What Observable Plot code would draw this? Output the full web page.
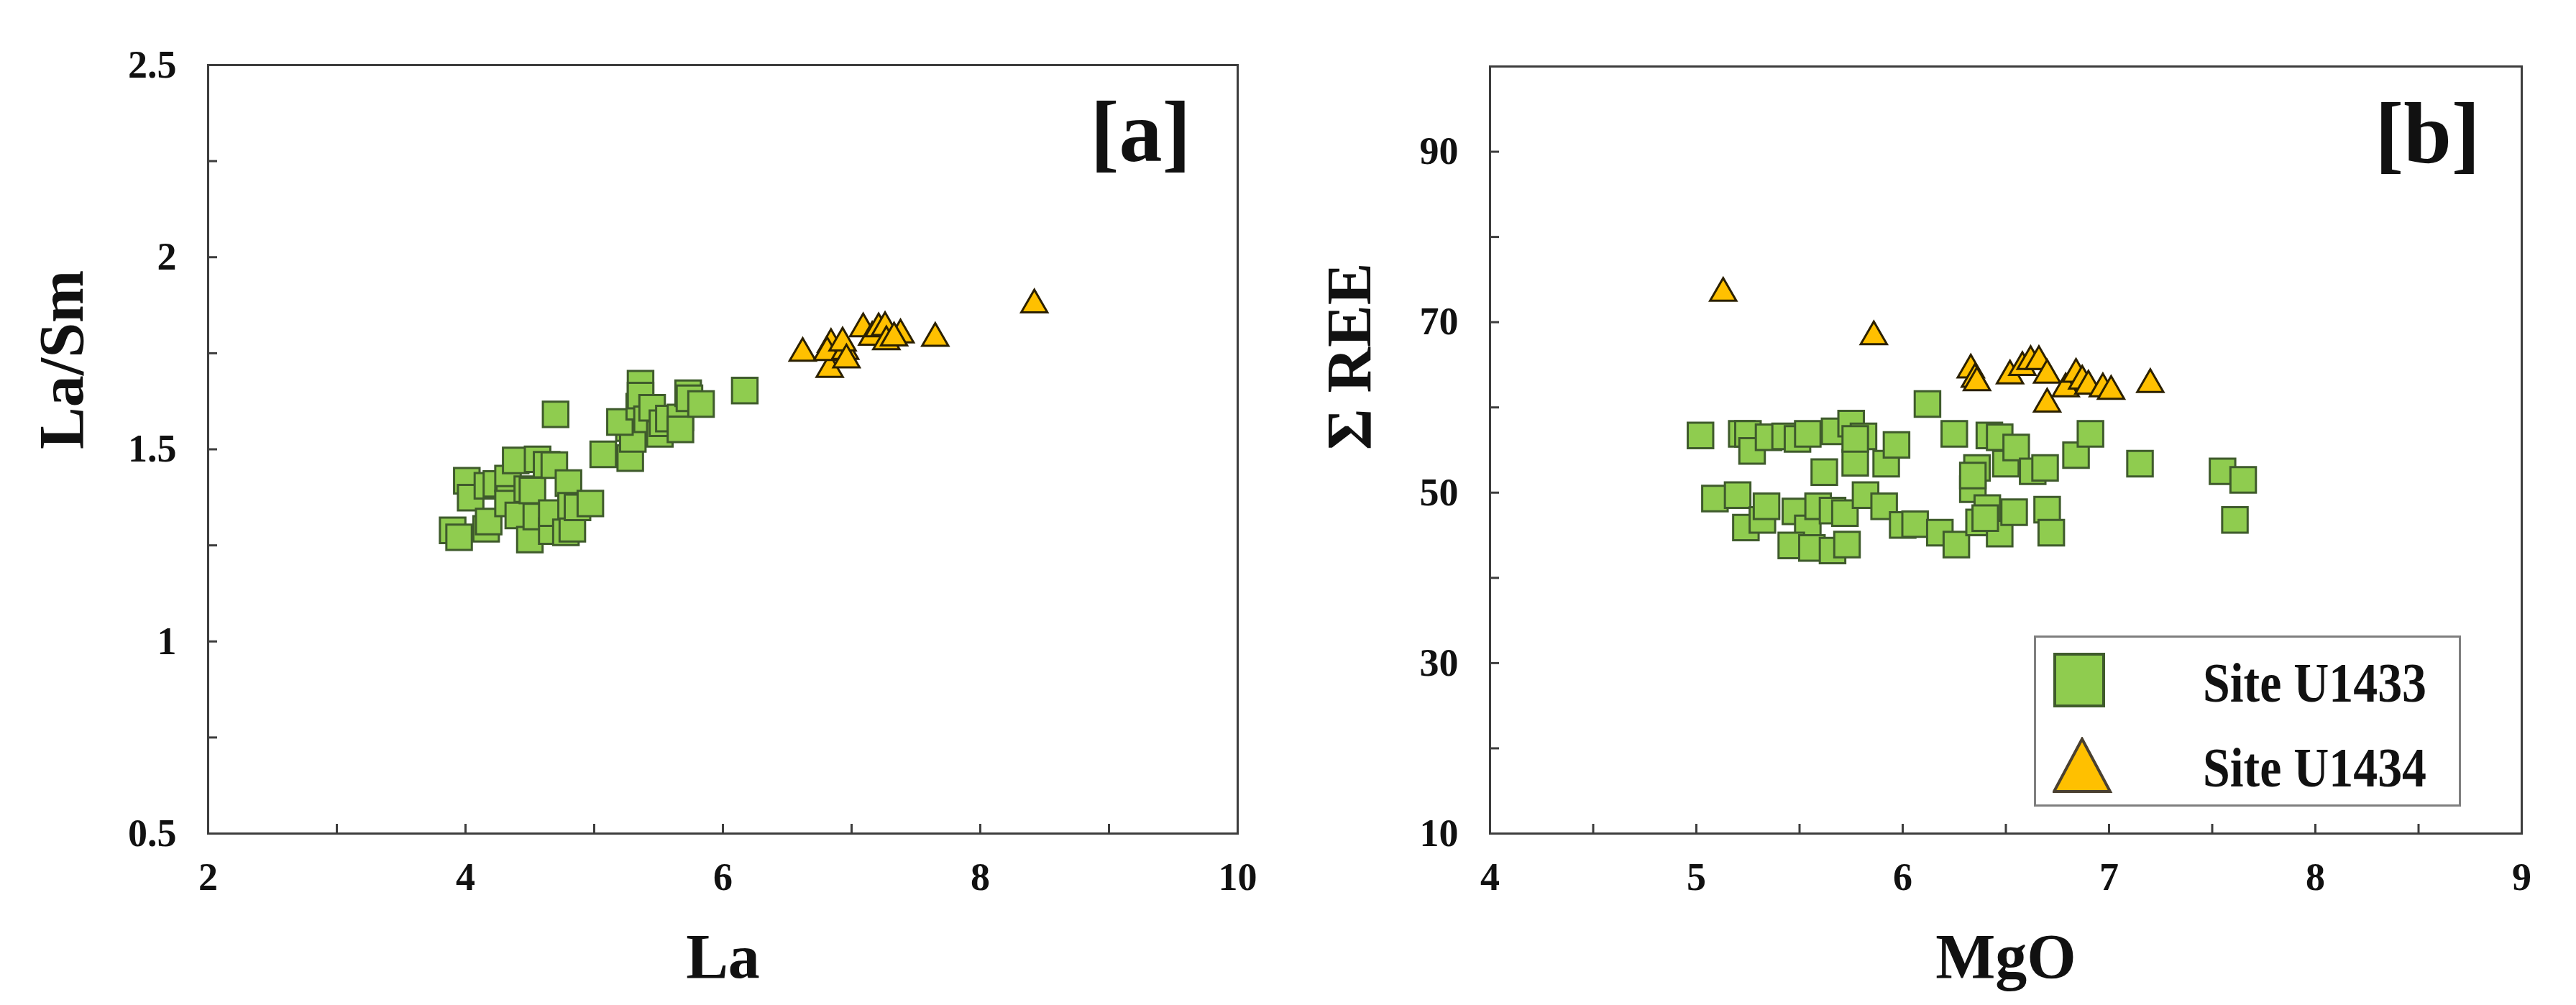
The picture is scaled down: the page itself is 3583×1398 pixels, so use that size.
<!DOCTYPE html>
<html>
<head>
<meta charset="utf-8">
<script src="https://cdn.jsdelivr.net/npm/d3@7"></script>
<script src="https://cdn.jsdelivr.net/npm/@observablehq/plot@0.6"></script>
<style>
  html, body { margin: 0; padding: 0; background: #fff; overflow: hidden; }
  #wrap { position: relative; width: 3583px; height: 1398px; overflow: hidden; background: #fff;
          font-family: "Liberation Serif", "Times New Roman", serif; }
  .panel { position: absolute; top: 0; }
  .legend { position: absolute; left: 2829px; top: 884px; width: 594px; height: 238px; box-sizing: border-box;
            border: 3px solid #7f7f7f; background: #fff; z-index: 5; }
  .legend .lab { position: absolute; left: 232px; font-weight: bold; font-size: 78px; color: #111; white-space: nowrap;
                 line-height: 1; transform: scaleX(0.87); transform-origin: left center; }
  .legend svg { position: absolute; }
</style>
</head>
<body>
<div id="wrap"></div>
<script>
// ---------- data ----------
const seriesNames = ["Site U1433", "Site U1434"];

// Panel [a]: La vs La/Sm
const aU1433La   = [3.90,3.95,4.01,4.04,4.17,4.16,4.18,4.24,4.33,4.34,4.33,4.39,4.41,4.48,4.50,4.52,4.55,4.56,4.63,4.69,4.70,4.67,4.67,4.80,4.78,4.83,4.82,4.87,4.97,5.07,5.28,5.27,5.30,5.20,5.35,5.36,5.36,5.41,5.45,5.51,5.53,5.58,5.67,5.67,5.73,5.74,5.83,6.17];
const aU1433LaSm = [1.289,1.271,1.418,1.374,1.405,1.293,1.312,1.410,1.424,1.371,1.359,1.471,1.328,1.396,1.265,1.393,1.325,1.474,1.460,1.459,1.591,1.287,1.334,1.412,1.284,1.293,1.353,1.349,1.359,1.487,1.477,1.555,1.527,1.571,1.611,1.671,1.640,1.578,1.608,1.540,1.568,1.580,1.583,1.552,1.646,1.633,1.618,1.653];
const aU1434La   = [6.62,6.83,6.84,6.81,6.95,6.93,6.96,7.09,7.16,7.21,7.26,7.27,7.38,7.33,7.65,8.42];
const aU1434LaSm = [1.750,1.708,1.773,1.752,1.755,1.777,1.733,1.814,1.792,1.814,1.817,1.780,1.798,1.790,1.789,1.876];

// Panel [b]: MgO vs ΣREE
const bU1433MgO = [5.02,5.09,5.20,5.22,5.25,5.27,5.24,5.32,5.34,5.35,5.43,5.49,5.54,5.48,5.54,5.46,5.59,5.62,5.56,5.66,5.73,5.66,5.72,5.67,5.75,5.77,5.81,5.82,5.91,5.92,5.97,6.00,6.06,6.12,6.18,6.25,6.26,6.34,6.36,6.37,6.41,6.42,6.47,6.47,6.50,6.54,6.55,6.63,6.69,6.70,6.72,6.84,6.91,7.15,7.55,7.65,7.61,5.77,6.34,6.40];
const bU1433REE = [56.7,49.3,49.7,56.9,56.9,54.9,45.9,46.8,48.4,56.5,56.6,56.3,56.9,47.8,45.8,43.8,48.4,52.4,43.5,43.2,43.9,47.9,47.6,57.2,58.1,53.5,56.6,49.7,48.4,53.4,55.6,46.2,46.3,60.4,45.3,56.9,43.9,50.4,52.9,46.5,48.2,56.7,56.5,45.2,53.4,47.7,55.3,52.5,52.9,48.0,45.3,54.4,56.9,53.4,52.5,51.5,46.8,56.3,52.0,47.0];
const bU1434MgO = [5.13,5.86,6.33,6.35,6.36,6.52,6.58,6.62,6.66,6.70,6.70,6.79,6.84,6.87,6.90,6.97,7.01,7.20];
const bU1434REE = [73.4,68.3,64.4,63.3,62.9,63.7,64.7,65.4,65.4,63.8,60.4,62.2,63.9,63.1,62.5,62.2,61.9,62.7];

// axes / ticks
const aXLabels = [2, 4, 6, 8, 10];
const aXMinor  = [2, 3, 4, 5, 6, 7, 8, 9, 10];
const aYLabels = [0.5, 1, 1.5, 2, 2.5];
const aYMinor  = [0.5, 0.75, 1, 1.25, 1.5, 1.75, 2, 2.25, 2.5];
const bXLabels = [4, 5, 6, 7, 8, 9];
const bXMinor  = [4, 4.5, 5, 5.5, 6, 6.5, 7, 7.5, 8, 8.5, 9];
const bYLabels = [10, 30, 50, 70, 90];
const bYMinor  = [10, 20, 30, 40, 50, 60, 70, 80, 90, 100];

const zip = (xs, ys) => xs.map((x, i) => ({x, y: ys[i]}));

// ---------- style ----------
const GREEN = "#8fcc4f", GREEN_STROKE = "#3f5b2c";
const GOLD = "#ffc000", GOLD_STROKE = "#2b2000";
const FRAME = "#3d3d3d";
const FONT = "'Liberation Serif', 'Times New Roman', serif";

function panel(o) {
  return Plot.plot({
    width: o.width, height: 1398,
    marginLeft: o.ml, marginRight: o.mr, marginTop: o.mt, marginBottom: 239,
    x: {domain: o.xDomain},
    y: {domain: o.yDomain},
    style: {fontFamily: FONT, background: "transparent", overflow: "visible", color: "#111"},
    marks: [
      Plot.axisX({ticks: o.xMinor, tickSize: -13, tickFormat: () => "", stroke: FRAME, strokeWidth: 3, label: null}),
      Plot.axisY({ticks: o.yMinor, tickSize: -13, tickFormat: () => "", stroke: FRAME, strokeWidth: 3, label: null}),
      Plot.axisX({ticks: o.xLabels, tickSize: 0, tickPadding: 40, fontSize: 54, fontWeight: "bold", fontFamily: FONT, label: null, tickFormat: d => String(d)}),
      Plot.axisY({ticks: o.yLabels, tickSize: 0, tickPadding: o.yPad, fontSize: 54, fontWeight: "bold", fontFamily: FONT, label: null, tickFormat: d => String(d)}),
      Plot.frame({stroke: FRAME, strokeWidth: 3}),
      Plot.dot(o.s1, {x: "x", y: "y", symbol: "square", r: 20, fill: GREEN, stroke: GREEN_STROKE, strokeWidth: 3}),
      Plot.dot(o.s2, {x: "x", y: "y", symbol: "triangle", r: 13.5, fill: GOLD, stroke: GOLD_STROKE, strokeWidth: 3}),
      Plot.text([o.xTitle], {text: d => d, frameAnchor: "bottom", dy: 172, fontSize: 88, fontWeight: "bold", fontFamily: FONT, lineAnchor: "middle"}),
      Plot.text([o.yTitle], {text: d => d, frameAnchor: "left", dx: o.yTitleDx, rotate: -90, fontSize: 88, fontWeight: "bold", fontFamily: FONT, lineAnchor: "middle"}),
      Plot.text([o.tag], {text: d => d, frameAnchor: "top-right", dx: o.tagDx, dy: 95, fontSize: 120, fontWeight: "bold", fontFamily: FONT, textAnchor: "middle", lineAnchor: "middle"})
    ]
  });
}

const wrap = document.getElementById("wrap");

const pa = panel({
  width: 1790, ml: 289, mr: 69, mt: 90,
  xDomain: [2, 10], yDomain: [0.5, 2.5],
  xLabels: aXLabels, xMinor: aXMinor, yLabels: aYLabels, yMinor: aYMinor, yPad: 44,
  s1: zip(aU1433La, aU1433LaSm), s2: zip(aU1434La, aU1434LaSm),
  xTitle: "La", yTitle: "La/Sm", yTitleDx: -203, tag: "[a]", tagDx: -135
});
pa.classList.add("panel"); pa.style.left = "0px";
wrap.appendChild(pa);

const pb = panel({
  width: 1793, ml: 282, mr: 76, mt: 92,
  xDomain: [4, 9], yDomain: [10, 100],
  xLabels: bXLabels, xMinor: bXMinor, yLabels: bYLabels, yMinor: bYMinor, yPad: 44,
  s1: zip(bU1433MgO, bU1433REE), s2: zip(bU1434MgO, bU1434REE),
  xTitle: "MgO", yTitle: "Σ REE", yTitleDx: -195, tag: "[b]", tagDx: -131
});
pb.classList.add("panel"); pb.style.left = "1790px";
wrap.appendChild(pb);

// ---------- legend ----------
const legend = document.createElement("div");
legend.className = "legend";
const ns = "http://www.w3.org/2000/svg";
function swatch(kind, left, top) {
  const s = document.createElementNS(ns, "svg");
  s.setAttribute("width", 84); s.setAttribute("height", 80);
  s.style.left = left + "px"; s.style.top = top + "px";
  const el = document.createElementNS(ns, kind === "square" ? "rect" : "polygon");
  if (kind === "square") {
    el.setAttribute("x", 2); el.setAttribute("y", 2); el.setAttribute("width", 68); el.setAttribute("height", 72);
    el.setAttribute("fill", GREEN); el.setAttribute("stroke", GREEN_STROKE);
  } else {
    el.setAttribute("points", "41,3 80,76 2,76");
    el.setAttribute("fill", GOLD); el.setAttribute("stroke", "#4a4030");
  }
  el.setAttribute("stroke-width", 4);
  s.appendChild(el);
  return s;
}
legend.appendChild(swatch("square", 24, 21));
legend.appendChild(swatch("triangle", 23, 138));
seriesNames.forEach((name, i) => {
  const t = document.createElement("div");
  t.className = "lab";
  t.textContent = name;
  t.style.top = (i === 0 ? 24 : 142) + "px";
  legend.appendChild(t);
});
wrap.appendChild(legend);
</script>
</body>
</html>
